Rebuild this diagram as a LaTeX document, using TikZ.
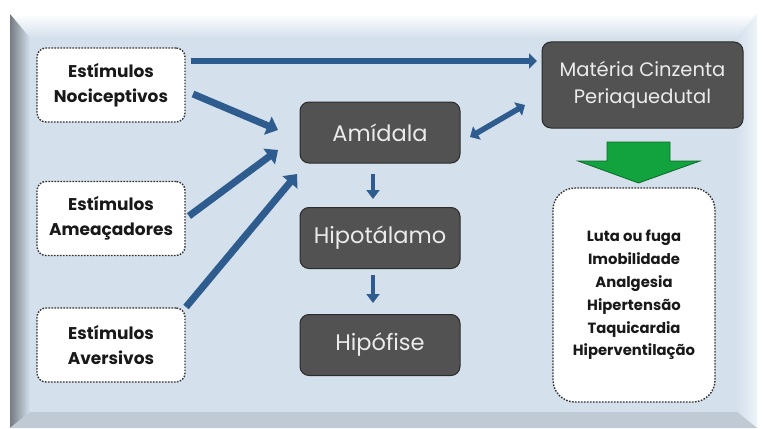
\documentclass[tikz,border=0pt]{standalone}
\usepackage{fontspec}
\setmainfont{Poppins}
\usetikzlibrary{arrows.meta,shadings}
\definecolor{panel}{HTML}{D4E0EC}
\definecolor{darkbox}{HTML}{525252}
\definecolor{darkedge}{HTML}{2B2B2B}
\definecolor{arrowblue}{HTML}{2E5C8E}
\definecolor{gr}{HTML}{12A23E}
\definecolor{grdark}{HTML}{0B6B2A}
\tikzset{
  stimbox/.style={draw=black!80, dash pattern=on 1.6pt off 1.4pt, line width=1.4pt, fill=white, rounded corners=9pt,
    minimum width=148pt, minimum height=74pt, align=center, font=\fontsize{17}{25}\selectfont\bfseries, text=black!90},
  darknode/.style={draw=darkedge, line width=1pt, fill=darkbox, rounded corners=9pt,
    minimum width=160pt, minimum height=61pt, align=center, text=white!92!black},
  blockarrow/.style={draw=arrowblue, line width=7pt, -{Triangle[length=11pt,width=19pt]}},
  thinarrow/.style={draw=arrowblue, line width=5.5pt, -{Triangle[length=8pt,width=15pt]}},
  downarrow/.style={draw=arrowblue, line width=4.5pt, -{Triangle[length=9pt,width=13pt]}},
}
\begin{document}
\begin{tikzpicture}[x=1pt,y=-1pt]
\useasboundingbox (0,0) rectangle (765,428);
\fill[white] (0,0) rectangle (765,428);
% panel with bevel
\fill[panel] (10,14) rectangle (757,428);
\shade[top color=white, bottom color=panel] (10,14) -- (757,14) -- (737,38) -- (30,38) -- cycle;
\shade[left color=black!45!panel, right color=panel] (10,14) -- (30,38) -- (30,412) -- (10,428) -- cycle;
\shade[left color=panel, right color=white!60!panel] (757,14) -- (737,38) -- (737,412) -- (757,428) -- cycle;
\fill[black!10!panel] (10,428) -- (30,412) -- (737,412) -- (757,428) -- cycle;

% nodes
\node[stimbox] (noc) at (111,85) {Estímulos\\Nociceptivos};
\node[stimbox] (ame) at (111,218.5) {Estímulos\\Ameaçadores};
\node[stimbox] (ave) at (111,345) {Estímulos\\Aversivos};
\node[darknode, font=\fontsize{22.5}{26}\selectfont] (ami) at (380,132.5) {Amídala};
\node[darknode, font=\fontsize{22.5}{26}\selectfont] (hipo) at (380,238) {Hipotálamo};
\node[darknode, font=\fontsize{22.5}{26}\selectfont] (hif) at (380,345) {Hipófise};
\node[darknode, minimum width=201pt, minimum height=86pt, font=\fontsize{19.5}{27}\selectfont] (mcp) at (642.5,85) {Matéria Cinzenta\\Periaquedutal};
\node[stimbox, minimum width=162pt, minimum height=214pt, rounded corners=22pt, font=\fontsize{14.8}{22.8}\selectfont\bfseries] (res) at (634,295) {Luta ou fuga\\Imobilidade\\Analgesia\\Hipertensão\\Taquicardia\\Hiperventilação};

% anchor coordinates for arrows
\coordinate (t0) at (191,61);
\coordinate (t1) at (537,61);
\coordinate (n0) at (193,94);
\coordinate (n1) at (278,130);
\coordinate (a0) at (189,216);
\coordinate (a1) at (278,150);
\coordinate (v0) at (186,307);
\coordinate (v1) at (297,174);
\coordinate (d0) at (470,137);
\coordinate (d1) at (525,105);
\coordinate (h0) at (373,174);
\coordinate (h1) at (373,199);
\coordinate (f0) at (373,275);
\coordinate (f1) at (373,303);

\draw[thinarrow] (t0) -- (t1);
\draw[blockarrow] (n0) -- (n1);
\draw[blockarrow] (a0) -- (a1);
\draw[blockarrow] (v0) -- (v1);
\draw[draw=arrowblue, line width=5.5pt, {Triangle[length=8pt,width=15pt]}-{Triangle[length=8pt,width=15pt]}] (d0) -- (d1);
\draw[downarrow] (h0) -- (h1);
\draw[downarrow] (f0) -- (f1);

% green block arrow
\filldraw[fill=gr, draw=grdark, line width=0.8pt] (607,142) -- (670,142) -- (670,161) -- (700,161) -- (638.5,183) -- (578,161) -- (607,161) -- cycle;
\end{tikzpicture}
\end{document}
